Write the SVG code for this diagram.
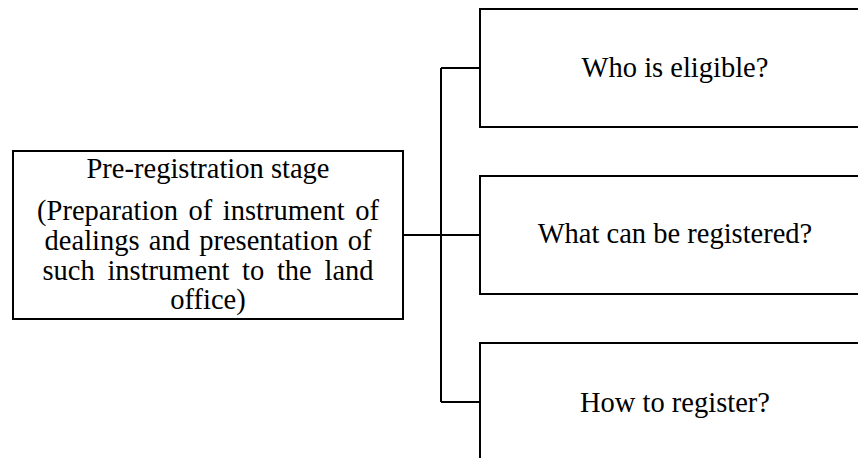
<svg xmlns="http://www.w3.org/2000/svg" width="858" height="458" viewBox="0 0 858 458">
<style>
.box{fill:#fff;stroke:#000;stroke-width:2}
.lbl{font-family:"Liberation Serif","Times New Roman",serif;font-size:28.5px;fill:#000;text-anchor:middle}
.conn{fill:none;stroke:#000;stroke-width:2}
</style>
<rect width="858" height="458" fill="#fff"/>
<g id="connectors">
<path class="conn" d="M403,235 H441"/>
<path class="conn" d="M441,68 V402"/>
<path class="conn" d="M441,68 H480"/>
<path class="conn" d="M441,235 H480"/>
<path class="conn" d="M441,402 H480"/>
</g>
<g id="pre-registration">
<rect class="box" x="13" y="151" width="390" height="168"/>
<text class="lbl" x="208" y="178">Pre-registration stage</text>
<text class="lbl" x="208" y="220" word-spacing="3.4">(Preparation of instrument of</text>
<text class="lbl" x="208" y="250" word-spacing="2.1">dealings and presentation of</text>
<text class="lbl" x="208" y="280" word-spacing="5.6">such instrument to the land</text>
<text class="lbl" x="208" y="309">office)</text>
</g>
<g id="who-eligible">
<rect class="box" x="480" y="9" width="390" height="118"/>
<text class="lbl" x="675" y="77">Who is eligible?</text>
</g>
<g id="what-registered">
<rect class="box" x="480" y="176" width="390" height="118"/>
<text class="lbl" x="675" y="243">What can be registered?</text>
</g>
<g id="how-register">
<rect class="box" x="480" y="343" width="390" height="130"/>
<text class="lbl" x="675" y="412">How to register?</text>
</g>
</svg>
